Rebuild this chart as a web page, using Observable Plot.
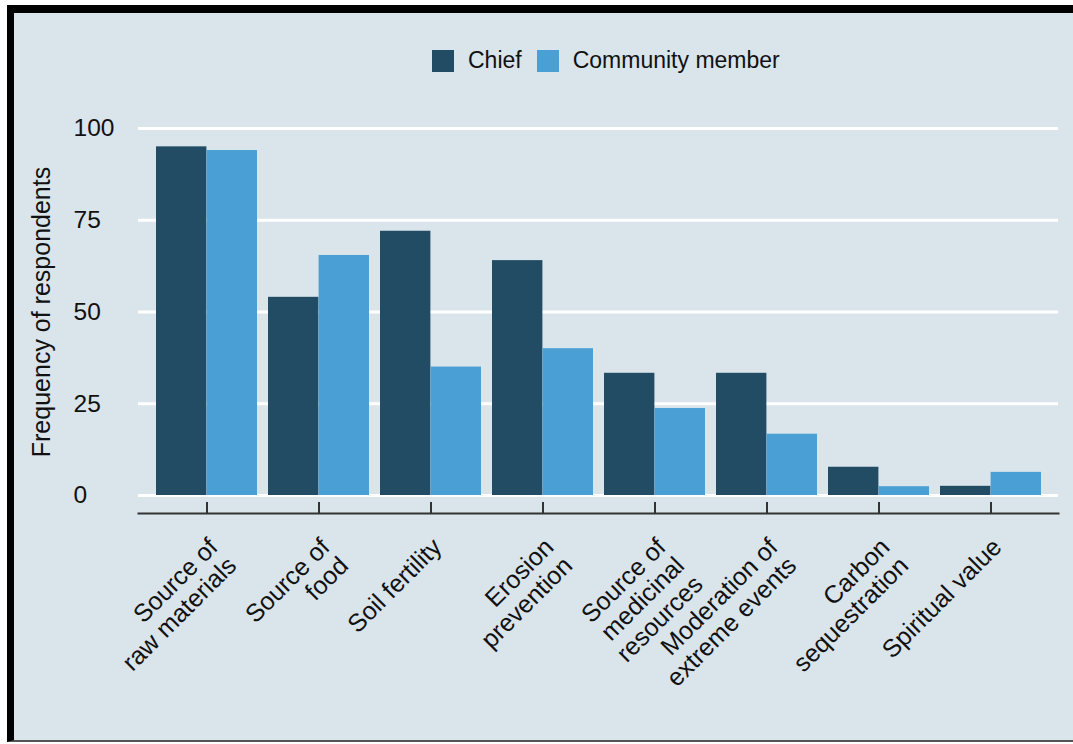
<!DOCTYPE html>
<html>
<head>
<meta charset="utf-8">
<script src="https://cdn.jsdelivr.net/npm/d3@7"></script>
<script src="https://cdn.jsdelivr.net/npm/@observablehq/plot@0.6"></script>
<style>
  html, body { margin: 0; padding: 0; background: #ffffff; }
  #box {
    margin: 5px 0 0 7px;
    border-top: 8px solid #000;
    border-left: 7px solid #000;
    border-bottom: 2px solid #555;
    background: #d9e4eb;
    width: 1059px;
    height: 727px;
    overflow: hidden;
    font-family: "Liberation Sans", Arial, Helvetica, sans-serif;
  }
  #legend { padding: 34px 0 0 418px; height: 22px; }
  .lg-swatches { margin: 0 !important; min-height: 22px !important; font-family: "Liberation Sans", Arial, sans-serif !important; font-size: 23px !important; color: #111; }
  .lg-swatch { margin-right: 15px !important; }
  .lg-swatch > svg { margin-right: 14px !important; }
  #chart svg { display: block; }
</style>
</head>
<body>
<div id="box">
  <div id="legend"></div>
  <div id="chart"></div>
</div>
<script>
const categories = [
  "Source of\nraw materials",
  "Source of\nfood",
  "Soil fertility",
  "Erosion\nprevention",
  "Source of\nmedicinal\nresources",
  "Moderation of\nextreme events",
  "Carbon\nsequestration",
  "Spiritual value"
];
const seriesNames = ["Chief", "Community member"];
const chiefValues = [95, 54, 72, 64, 33.3, 33.3, 7.7, 2.5];
const communityValues = [94, 65.4, 35, 40, 23.7, 16.7, 2.4, 6.3];
const yTicks = [0, 25, 50, 75, 100];
const colors = ["#214c63", "#4aa0d5"];

const rows = [];
categories.forEach((c, i) => {
  rows.push({category: c, series: seriesNames[0], value: chiefValues[i]});
  rows.push({category: c, series: seriesNames[1], value: communityValues[i]});
});

const width = 1059, height = 671;
const marginLeft = 124, marginRight = 15, marginTop = 59, marginBottom = 227;
const padIn = 0.1, padOut = 0.14;
const frameW = width - marginLeft - marginRight;
const frameH = height - marginTop - marginBottom;
const step = frameW / (categories.length - padIn + 2 * padOut);
const half = step * (1 - padIn) / 2;

const legend = Plot.legend({
  color: {type: "ordinal", domain: seriesNames, range: colors},
  swatchSize: 22,
  className: "lg"
});
document.getElementById("legend").appendChild(legend);

const chart = Plot.plot({
  width, height, marginLeft, marginRight, marginTop, marginBottom,
  style: {background: "transparent", fontFamily: "'Liberation Sans', Arial, sans-serif", color: "#111"},
  x: {type: "band", domain: categories, paddingInner: padIn, paddingOuter: padOut, label: null},
  y: {domain: [0, 100], insetBottom: 18, label: null},
  color: {domain: seriesNames, range: colors},
  marks: [
    Plot.gridY(yTicks, {stroke: "#ffffff", strokeOpacity: 1, strokeWidth: 3}),
    Plot.barY(rows.filter(d => d.series === seriesNames[0]), {x: "category", y: "value", fill: "series", insetRight: half}),
    Plot.barY(rows.filter(d => d.series === seriesNames[1]), {x: "category", y: "value", fill: "series", insetLeft: half}),
    Plot.frame({anchor: "bottom", stroke: "#333", strokeWidth: 2}),
    Plot.ruleX(categories, {x: d => d, stroke: "#333", strokeWidth: 2, insetTop: frameH - 11}),
    Plot.axisX({tickSize: 0, tickPadding: 22, dx: -1, tickRotate: -45, textAnchor: "end", lineAnchor: "top", lineHeight: 1.05, fontSize: 25, fill: "#111", label: null}),
    Plot.axisY(yTicks, {tickSize: 0, tickPadding: 65, textAnchor: "start", fontSize: 24.5, fill: "#111", label: null}),
    Plot.text(["Frequency of respondents"], {frameAnchor: "left", rotate: -90, textAnchor: "middle", lineAnchor: "top", dx: -106, dy: -9, fontSize: 25, fill: "#111"})
  ]
});
document.getElementById("chart").appendChild(chart);
</script>
</body>
</html>
